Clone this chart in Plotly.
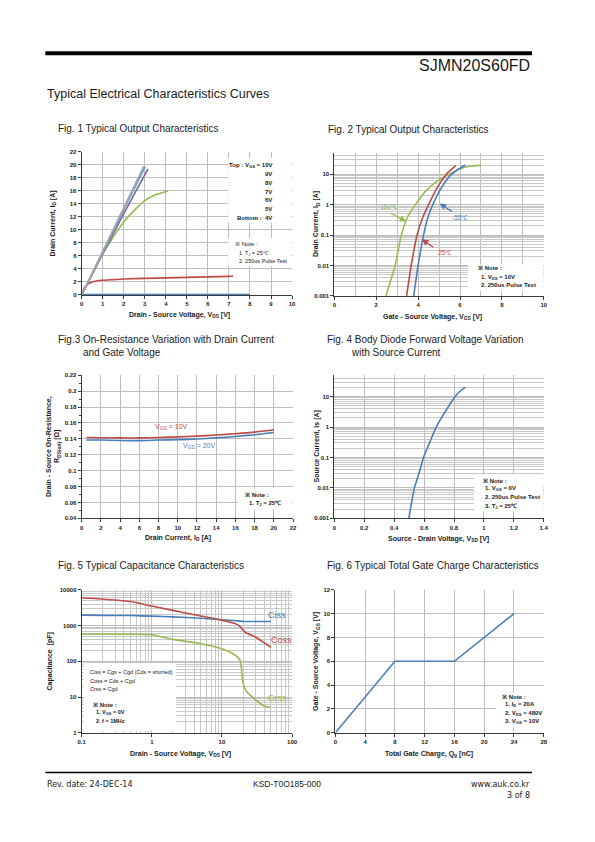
import plotly.graph_objects as go

# ---------------- data ----------------
# Fig 1 : output characteristics (Id vs Vds) per Vgs
f1_v10_x = [0, 1, 2, 2.95]
f1_v10_y = [0, 6.7, 13.4, 19.8]
f1_v9_x = [0, 1, 2, 2.98]
f1_v9_y = [0, 6.6, 13.3, 19.8]
f1_v8_x = [0, 1, 2, 3.02]
f1_v8_y = [0, 6.5, 13.1, 19.7]
f1_v7_x = [0, 1, 2, 3.15]
f1_v7_y = [0, 6.3, 12.5, 19.4]
f1_v6_x = [0, 0.5, 1, 1.5, 2, 2.5, 3, 3.5, 4.1]
f1_v6_y = [0, 3.2, 6.3, 8.9, 11.2, 13.0, 14.5, 15.4, 16.0]
f1_v5_x = [0, 0.1, 0.2, 0.3, 0.5, 0.7, 1, 1.5, 2, 3, 4, 5, 6, 7, 7.2]
f1_v5_y = [0, 0.9, 1.4, 1.7, 2.0, 2.15, 2.25, 2.35, 2.45, 2.55, 2.62, 2.7, 2.78, 2.85, 2.88]
f1_v4_x = [0, 8]
f1_v4_y = [0.05, 0.05]

# Fig 2 : transfer characteristics (Id vs Vgs)
f2_150_x = [2.46, 2.9, 3.2, 3.5, 3.87, 4.4, 5.0, 5.5, 6.0, 6.5, 7.0]
f2_150_y = [0.001, 0.01, 0.1, 0.4, 1, 3, 6.5, 10, 15, 18.5, 19.5]
f2_25_x = [3.45, 3.67, 3.95, 4.2, 4.5, 4.9, 5.35, 5.8]
f2_25_y = [0.001, 0.01, 0.1, 0.35, 1, 3.5, 10, 19]
f2_m55_x = [3.79, 4.0, 4.26, 4.45, 4.7, 5.1, 5.6, 6.25]
f2_m55_y = [0.001, 0.01, 0.1, 0.35, 1, 3.5, 10, 20]

# Fig 3 : on-resistance vs drain current
f3_x = [0.5, 2, 4, 6, 8, 10, 12, 14, 16, 18, 20]
f3_v10 = [0.1418, 0.1415, 0.1412, 0.1412, 0.1418, 0.1425, 0.1435, 0.1448, 0.1465, 0.1485, 0.1515]
f3_v20 = [0.1385, 0.1385, 0.1380, 0.1378, 0.1385, 0.1390, 0.1398, 0.1412, 0.1430, 0.1452, 0.1480]

# Fig 4 : body diode
f4_x = [0.498, 0.535, 0.566, 0.596, 0.636, 0.681, 0.738, 0.808, 0.84, 0.876]
f4_y = [0.001, 0.01, 0.03, 0.1, 0.3, 1, 3, 10, 15, 20]

# Fig 5 : capacitance
f5_ciss_x = [0.1, 0.2, 0.5, 1, 2, 5, 10, 15, 20, 30, 50]
f5_ciss_y = [1950, 1930, 1900, 1830, 1750, 1600, 1450, 1380, 1300, 1300, 1300]
f5_coss_x = [0.1, 0.2, 0.5, 1, 2, 5, 10, 15, 18, 20, 22, 30, 40, 50]
f5_coss_y = [6000, 5500, 4700, 3500, 2650, 1850, 1400, 1150, 950, 750, 630, 480, 330, 245]
f5_crss_x = [0.1, 0.5, 1, 2, 5, 10, 15, 18, 19, 20, 22, 30, 40, 50]
f5_crss_y = [580, 570, 550, 410, 310, 225, 155, 110, 60, 25, 15, 8.5, 5.6, 5.1]

# Fig 6 : gate charge
f6_x = [0, 8, 16, 24]
f6_y = [0, 6, 6, 10]

log_ticks_f5x = [0.1, 1, 10, 100]
log_text_f5x = ["0.1", "1", "10", "100"]
log_ticks_f5y = [1, 10, 100, 1000, 10000]
log_text_f5y = ["1", "10", "100", "1000", "10000"]
log_ticks_id = [0.001, 0.01, 0.1, 1, 10]
log_text_id = ["0.001", "0.01", "0.1", "1", "10"]

# ---------------- styling ----------------
W, H = 595, 842
BLUE = "#4A7EBB"
RED = "#BE4B48"
GREEN = "#98B954"
PURPLE = "#7D60A0"
AQUA = "#4BACC6"
GREYBLUE = "#8FA2C8"
GREY = "#A6A6A6"
TXT = "#1a1a1a"
FONT = "Liberation Sans"


def PX(x):
    return x / W


def PY(y):
    return 1 - y / H


boxes = {
    1: ((79, 293), (150, 294)),
    2: ((336, 549), (151, 295)),
    3: ((79, 294), (375, 519)),
    4: ((336, 549), (375, 519)),
    5: ((79, 293), (591, 735)),
    6: ((337, 549), (591, 735)),
}

fig = go.Figure()


def add(i, x, y, color, width=1.6):
    fig.add_trace(go.Scatter(
        x=x, y=y, mode="lines", line=dict(color=color, width=width, shape="spline", smoothing=0.6),
        xaxis="x" if i == 1 else f"x{i}", yaxis="y" if i == 1 else f"y{i}",
        showlegend=False, hoverinfo="skip"))


add(1, f1_v4_x, f1_v4_y, BLUE)
add(1, f1_v5_x, f1_v5_y, RED)
add(1, f1_v6_x, f1_v6_y, GREEN)
add(1, f1_v7_x, f1_v7_y, PURPLE)
add(1, f1_v8_x, f1_v8_y, AQUA)
add(1, f1_v9_x, f1_v9_y, GREYBLUE)
add(1, f1_v10_x, f1_v10_y, GREY)

add(2, f2_150_x, f2_150_y, GREEN)
add(2, f2_25_x, f2_25_y, RED)
add(2, f2_m55_x, f2_m55_y, BLUE)

add(3, f3_x, f3_v10, RED)
add(3, f3_x, f3_v20, BLUE)

add(4, f4_x, f4_y, BLUE)

add(5, f5_ciss_x, f5_ciss_y, BLUE)
add(5, f5_coss_x, f5_coss_y, RED)
add(5, f5_crss_x, f5_crss_y, GREEN)

fig.add_trace(go.Scatter(x=f6_x, y=f6_y, mode="lines", line=dict(color=BLUE, width=1.6),
                         xaxis="x6", yaxis="y6", showlegend=False, hoverinfo="skip"))

base_axis = dict(
    showline=True, linecolor="#3a3a3a", linewidth=1, mirror=False,
    showgrid=True, gridcolor="#BDBDBD", gridwidth=0.8,
    ticks="outside", ticklen=3, tickcolor="#3a3a3a", tickwidth=1,
    tickfont=dict(family=FONT, size=6, color=TXT, weight="bold"),
    zeroline=False, fixedrange=True,
)

axis_specs = {
    1: (dict(range=[0, 10], dtick=1, tick0=0), dict(range=[0, 22], dtick=2, tick0=0)),
    2: (dict(range=[0, 10], dtick=2, tick0=0, minor=dict(dtick=1, showgrid=True, gridcolor="#BDBDBD", ticks="")),
        dict(type="log", range=[-3, 1.699], tickvals=log_ticks_id, ticktext=log_text_id,
             minor=dict(dtick="D1", showgrid=True, gridcolor="#C8C8C8", gridwidth=0.6, ticks=""))),
    3: (dict(range=[0, 22], dtick=2, tick0=0),
        dict(range=[0.04, 0.22], dtick=0.02, tick0=0.04,
             minor=dict(dtick=0.01, ticks="outside", ticklen=2, tickcolor="#3a3a3a", showgrid=False))),
    4: (dict(range=[0, 1.4], dtick=0.2, tick0=0),
        dict(type="log", range=[-3, 1.699], tickvals=log_ticks_id, ticktext=log_text_id,
             minor=dict(dtick="D1", showgrid=True, gridcolor="#C8C8C8", gridwidth=0.6, ticks=""))),
    5: (dict(type="log", range=[-1, 2], tickvals=log_ticks_f5x, ticktext=log_text_f5x,
             minor=dict(dtick="D1", showgrid=True, gridcolor="#C8C8C8", gridwidth=0.6, ticks="")),
        dict(type="log", range=[0, 4], tickvals=log_ticks_f5y, ticktext=log_text_f5y,
             minor=dict(dtick="D1", showgrid=True, gridcolor="#C8C8C8", gridwidth=0.6, ticks=""))),
    6: (dict(range=[0, 28], dtick=4, tick0=0), dict(range=[0, 12], dtick=2, tick0=0)),
}

layout_axes = {}
for i, ((x0, x1), (y0, y1)) in boxes.items():
    xs, ys = axis_specs[i]
    xk = "xaxis" if i == 1 else f"xaxis{i}"
    yk = "yaxis" if i == 1 else f"yaxis{i}"
    xa = dict(base_axis)
    xa.update(xs)
    xa.update(domain=[PX(x0), PX(x1)], anchor="y" if i == 1 else f"y{i}")
    ya = dict(base_axis)
    ya.update(ys)
    ya.update(domain=[PY(y1), PY(y0)], anchor="x" if i == 1 else f"x{i}")
    layout_axes[xk] = xa
    layout_axes[yk] = ya

fig.update_layout(**layout_axes)

ann = []


def text(x, y, s, size=6, bold=True, color=TXT, xanchor="left", yanchor="middle", family=FONT,
         angle=0, bg=None):
    d = dict(x=PX(x), y=PY(y), xref="paper", yref="paper", text=s, showarrow=False,
             xanchor=xanchor, yanchor=yanchor, textangle=angle,
             font=dict(family=family, size=size, color=color, weight="bold" if bold else "normal"))
    if bg:
        d.update(bgcolor=bg)
    ann.append(d)


# header / footer
text(537, 63, "SJMN20S60FD", size=16, bold=False, xanchor="right")
text(42, 92, "Typical Electrical Characteristics Curves", size=12.5, bold=False)
text(42, 787, "Rev. date: 24-DEC-14", size=8, bold=False, family="DejaVu Sans")
text(288, 787, "KSD-T0O185-000", size=8.5, bold=False, xanchor="center")
text(537, 787, "www.auk.co.kr", size=8, bold=False, xanchor="right", family="DejaVu Sans")
text(537, 798, "3 of 8", size=8, bold=False, xanchor="right", family="DejaVu Sans")

# figure titles
text(53, 126, "Fig. 1 Typical Output Characteristics", size=10, bold=False)
text(327, 127, "Fig. 2 Typical Output Characteristics", size=10, bold=False)
text(53, 339, "Fig.3 On-Resistance Variation with Drain Current", size=10, bold=False)
text(78, 352, "and Gate Voltage", size=10, bold=False)
text(326, 339, "Fig. 4 Body Diode Forward Voltage Variation", size=10, bold=False)
text(351, 352, "with Source Current", size=10, bold=False)
text(53, 567, "Fig. 5 Typical Capacitance Characteristics", size=10, bold=False)
text(326, 567, "Fig. 6 Typical Total Gate Charge Characteristics", size=10, bold=False)

# axis titles
text(179, 314, "Drain - Source Voltage, V<sub>DS</sub> [V]", size=7, xanchor="center")
text(50, 222, "Drain Current, I<sub>D</sub> [A]", size=7, xanchor="center", angle=-90)
text(436, 316, "Gate - Source Voltage, V<sub>GS</sub> [V]", size=7, xanchor="center")
text(318, 223, "Drain Current, I<sub>D</sub> [A]", size=7, xanchor="center", angle=-90)
text(177, 539, "Drain Current, I<sub>D</sub> [A]", size=7, xanchor="center")
text(46, 447, "Drain - Source On-Resistance,", size=7, xanchor="center", angle=-90)
text(54, 447, "R<sub>DS(on)</sub> [Ω]", size=7, xanchor="center", angle=-90)
text(442, 540, "Source - Drain Voltage, V<sub>SD</sub> [V]", size=7, xanchor="center")
text(318, 447, "Source Current, Is [A]", size=7, xanchor="center", angle=-90)
text(180, 756, "Drain - Source Voltage, V<sub>DS</sub> [V]", size=7, xanchor="center")
text(47, 663, "Capacitance  [pF]", size=7, xanchor="center", angle=-90)
text(432, 756, "Total Gate Charge, Q<sub>g</sub> [nC]", size=7, xanchor="center")
text(318, 663, "Gate - Source Voltage, V<sub>GS</sub> [V]", size=7, xanchor="center", angle=-90)

# white boxes behind notes
shapes = []


def wbox(x0, y0, x1, y1, line=None):
    shapes.append(dict(type="rect", xref="paper", yref="paper", x0=PX(x0), x1=PX(x1), y0=PY(y1), y1=PY(y0),
                       fillcolor="white", line=dict(width=0.8 if line else 0, color=line or "white"),
                       layer="above"))


wbox(228, 156, 292, 221)
wbox(228, 237, 292, 265)
wbox(472, 263, 548.5, 290)
wbox(238, 489, 293, 510)
wbox(478, 475, 548.5, 512)
wbox(81, 665, 175, 733)
wbox(500, 695, 548.5, 730)

# header bar & footer line
shapes.append(dict(type="rect", xref="paper", yref="paper", x0=PX(42), x1=PX(537), y0=PY(52.5), y1=PY(48.5),
                   fillcolor="black", line=dict(width=0)))
shapes.append(dict(type="line", xref="paper", yref="paper", x0=PX(42), x1=PX(537), y0=PY(775), y1=PY(775),
                   line=dict(width=1.5, color="black")))

# fig1 legend
text(275, 164, "Top : V<sub>GS</sub> = 10V", xanchor="right")
for k, lab in enumerate(["9V", "8V", "7V", "6V", "5V"]):
    text(275, 172.7 + 8.7 * k, lab, xanchor="right")
text(264, 216.7, "Bottom :", xanchor="right")
text(275, 216.7, "4V", xanchor="right")
text(233, 243, "※ Note :", bold=False)
text(237, 252, "1. T<sub>J</sub> = 25℃", bold=False, size=5.5)
text(237, 260, "2. 250us Pulse Test", bold=False, size=5.5)

# fig2 labels
text(480, 267, "※ Note :")
text(483, 276, "1. V<sub>DS</sub> = 10V")
text(483, 284, "2. 250us Pulse Test")
text(380, 205, "150℃", size=6.5, bold=False, color=GREEN)
text(454, 216, "-55℃", size=6.5, bold=False, color=BLUE)
text(439, 251, "25℃", size=6.5, bold=False, color=RED)


def arrow(xt, yt, xh, yh, color):
    ann.append(dict(x=PX(xh), y=PY(yh), ax=xt - xh, ay=yt - yh, xref="paper", yref="paper",
                    axref="pixel", ayref="pixel", text="", showarrow=True, arrowhead=2,
                    arrowsize=1, arrowwidth=1.3, arrowcolor=color))


arrow(392, 211, 409, 220, GREEN)
arrow(457, 211, 443, 202, BLUE)
arrow(438, 247, 425, 238, RED)

# fig3 labels
text(152, 427, "V<sub>GS</sub> = 10V", size=7, bold=False, color=RED)
text(180, 446, "V<sub>GS</sub> = 20V", size=7, bold=False, color=BLUE)
text(243, 496, "※ Note :")
text(247, 504, "1. T<sub>J</sub> = 25℃")

# fig4 note
text(485, 481, "※ Note :")
text(487, 489, "1. V<sub>GS</sub> = 0V")
text(487, 498, "2. 250us Pulse Test")
text(487, 507, "3. T<sub>J</sub> = 25℃")

# fig5 legend
text(85, 674, "Ciss = Cgs + Cgd (Cds = shorted)", size=5.5, bold=False)
text(85, 683, "Coss = Cds + Cgd", size=5.5, bold=False)
text(85, 691, "Crss = Cgd", size=5.5, bold=False)
text(88, 707, "※ Note :", size=6)
text(92, 715, "1. V<sub>GS</sub> = 0V", size=5.5)
text(92, 723, "2. f = 1MHz", size=5.5)
text(266, 616, "Ciss", size=9, bold=False, color=BLUE)
text(270, 642, "Coss", size=9, bold=False, color=RED)
text(266, 700, "Crss", size=9, bold=False, color=GREEN)

# fig6 note
text(504, 699, "※ Note :")
text(508, 707, "1. I<sub>D</sub> = 20A")
text(508, 716, "2. V<sub>DS</sub> = 480V")
text(508, 724, "3. V<sub>GS</sub> = 10V")

fig.update_layout(
    width=W, height=H, margin=dict(l=0, r=0, t=0, b=0),
    paper_bgcolor="white", plot_bgcolor="white",
    annotations=ann, shapes=shapes, showlegend=False,
    font=dict(family=FONT, color=TXT),
)

fig.write_html("out.html", config={"displayModeBar": False},
               post_script="document.body.style.margin='0';document.body.style.overflow='hidden';")
